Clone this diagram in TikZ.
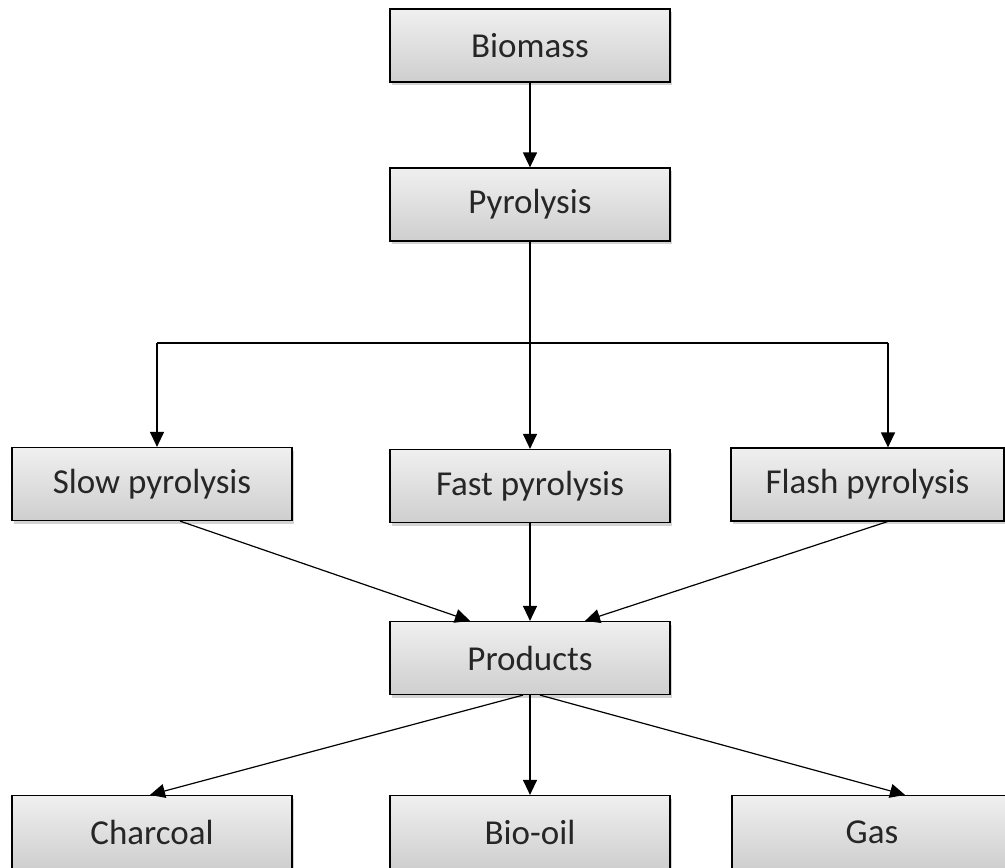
\documentclass[tikz,border=0pt]{standalone}
\usepackage{fontspec}
\setmainfont{Carlito}
\usetikzlibrary{arrows.meta,shadows}
\begin{document}
\begin{tikzpicture}[x=1pt,y=-1pt,
  box/.style={draw=black,line width=1.2pt,minimum width=280pt,minimum height=73pt,
    top color=gray!12,bottom color=gray!38,
    drop shadow={shadow xshift=2pt,shadow yshift=-3pt,opacity=0.35,fill=gray},
    font=\fontsize{35}{40}\selectfont,text=black!85,inner sep=0pt},
  arr/.style={line width=1.2pt,-{Triangle[length=15pt,width=14pt]}}]
\path[use as bounding box] (0,0) rectangle (1005,868);
\clip (0,0) rectangle (1005,868);
\node[box] (bio) at (530,45.5) {Biomass};
\node[box] (pyr) at (530,204.5) {Pyrolysis};
\node[box] (slow) at (152,484) {Slow pyrolysis};
\node[box] (fast) at (530,486) {Fast pyrolysis};
\node[box,minimum width=273pt] (flash) at (867.5,484.5) {Flash pyrolysis};
\node[box] (prod) at (530,658) {Products};
\node[box] (char) at (152,832) {Charcoal};
\node[box] (oil) at (530,832) {Bio-oil};
\node[box] (gas) at (872,832) {Gas};
\coordinate (j) at (530,343);
\coordinate (jl) at (157,343);
\coordinate (jr) at (888,343);
\draw[arr] (bio) -- (pyr);
\draw[line width=1.2pt] (pyr.south) -- (j);
\draw[line width=1.2pt] (jl) -- (jr);
\draw[arr] (jl) -- (jl |- slow.north);
\draw[arr] (j) -- (fast.north);
\draw[arr] (jr) -- (jr |- flash.north);
\draw[arr] ([xshift=28pt]slow.south) -- ([xshift=-60pt]prod.north);
\draw[arr] (fast) -- (prod);
\draw[arr] ([xshift=20pt]flash.south) -- ([xshift=55pt]prod.north);
\draw[arr] ([xshift=-7pt]prod.south) -- ([xshift=-2pt]char.north);
\draw[arr] (prod) -- (oil);
\draw[arr] ([xshift=10pt]prod.south) -- ([xshift=33pt]gas.north);
\end{tikzpicture}
\end{document}
